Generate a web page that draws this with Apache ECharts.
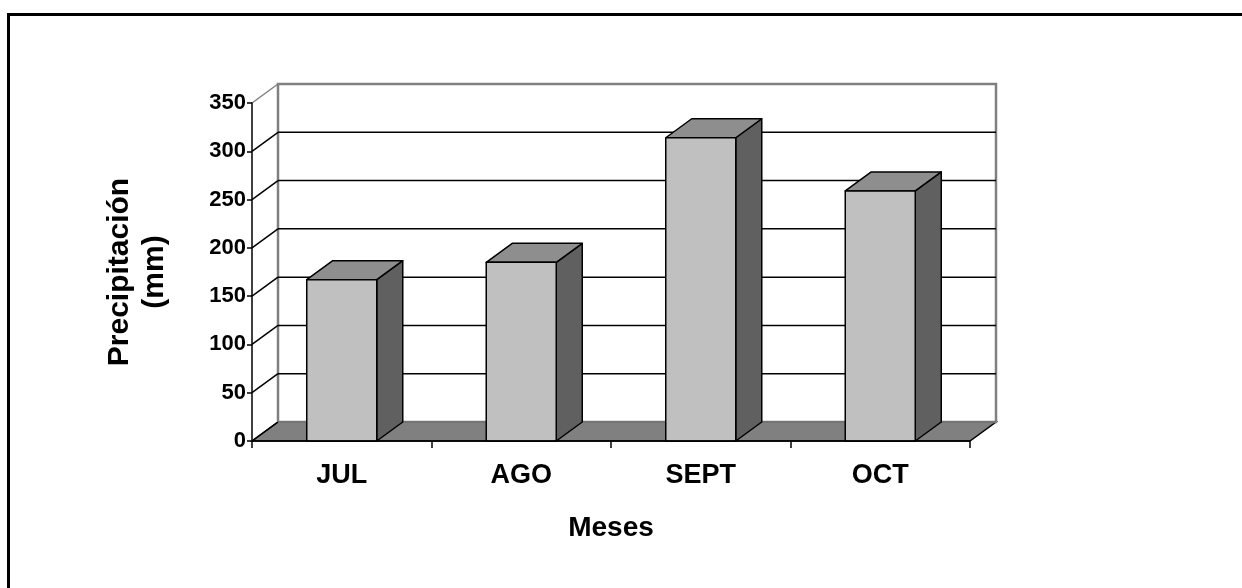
<!DOCTYPE html>
<html>
<head>
<meta charset="utf-8">
<script src="https://cdn.jsdelivr.net/npm/echarts@6/dist/echarts.min.js"></script>
<style>
  html, body { margin: 0; padding: 0; background: #fff; }
  #chart { width: 1242px; height: 588px; }
</style>
</head>
<body>
<div id="chart"></div>
<script>
    const categories = ['JUL', 'AGO', 'SEPT', 'OCT'];
    const precipitation = [167, 185, 314, 259];
    const yTicks = [0, 50, 100, 150, 200, 250, 300, 350];

    // depth of the fake 3D box
    const DX = 26;
    const DY = 19;
    const fontMain = 'Liberation Sans, Arial, sans-serif';

    const chart = echarts.init(document.getElementById('chart'));

    function renderBox(params, api) {
        const cs = params.coordSys;
        const left = cs.x;
        const right = cs.x + cs.width;
        const yOf = (v) => api.coord([0, v])[1];
        const y0 = yOf(yTicks[0]);
        const yTop = yOf(yTicks[yTicks.length - 1]);
        const children = [];

        // floor
        children.push({
            type: 'polygon',
            shape: { points: [[left, y0], [right, y0], [right + DX, y0 - DY], [left + DX, y0 - DY]] },
            style: { fill: '#808080', stroke: '#000', lineWidth: 1.5 }
        });
        // back wall
        children.push({
            type: 'rect',
            shape: { x: left + DX, y: yTop - DY, width: right - left, height: y0 - yTop },
            style: { fill: '#fff', stroke: '#808080', lineWidth: 2.5 }
        });
        // grid lines on back wall + left wall
        yTicks.forEach((v, i) => {
            const y = yOf(v);
            const last = i === yTicks.length - 1;
            if (i > 0 && !last) {
                children.push({
                    type: 'line',
                    shape: { x1: left + DX, y1: y - DY, x2: right + DX, y2: y - DY },
                    style: { stroke: '#000', lineWidth: 1.5 }
                });
            }
            children.push({
                type: 'line',
                shape: { x1: left, y1: y, x2: left + DX, y2: y - DY },
                style: { stroke: last ? '#808080' : '#000', lineWidth: 1.5 }
            });
        });
        // floor back edge
        children.push({
            type: 'line',
            shape: { x1: left + DX, y1: y0 - DY, x2: right + DX, y2: y0 - DY },
            style: { stroke: '#707070', lineWidth: 1.5 }
        });
        return { type: 'group', children: children };
    }

    function renderBar(params, api) {
        const cat = api.value(0);
        const val = api.value(1);
        const p0 = api.coord([cat, 0]);
        const p1 = api.coord([cat, val]);
        const w = api.size([1, 0])[0] * 0.39;
        const x0 = p0[0] - w / 2;
        const x1 = p0[0] + w / 2;
        const yb = p0[1];
        const yt = p1[1];
        const edge = { stroke: '#000', lineWidth: 1.5, lineJoin: 'round' };
        return {
            type: 'group',
            children: [
                {
                    type: 'polygon',
                    shape: { points: [[x1, yt], [x1 + DX, yt - DY], [x1 + DX, yb - DY], [x1, yb]] },
                    style: Object.assign({ fill: '#606060' }, edge)
                },
                {
                    type: 'polygon',
                    shape: { points: [[x0, yt], [x1, yt], [x1 + DX, yt - DY], [x0 + DX, yt - DY]] },
                    style: Object.assign({ fill: '#8e8e8e' }, edge)
                },
                {
                    type: 'rect',
                    shape: { x: x0, y: yt, width: w, height: yb - yt },
                    style: Object.assign({ fill: '#c0c0c0' }, edge)
                }
            ]
        };
    }

    chart.setOption({
        backgroundColor: '#fff',
        animation: false,
        textStyle: { fontFamily: fontMain },
        graphic: [
            {
                type: 'rect',
                shape: { x: 8.5, y: 14.5, width: 1400, height: 800 },
                style: { fill: 'transparent', stroke: '#000', lineWidth: 3 },
                silent: true
            }
        ],
        grid: { left: 252, top: 103, width: 718, height: 338 },
        xAxis: {
            type: 'category',
            data: categories,
            boundaryGap: true,
            axisLine: { lineStyle: { color: '#000', width: 1.5 } },
            axisTick: { show: true, length: 7, lineStyle: { color: '#000', width: 1.5 } },
            axisLabel: { color: '#000', fontWeight: 'bold', fontSize: 27, margin: 21, fontFamily: fontMain },
            name: 'Meses',
            nameLocation: 'middle',
            nameGap: 73,
            nameTextStyle: { color: '#000', fontWeight: 'bold', fontSize: 28, fontFamily: fontMain },
            splitLine: { show: false },
            z: 10
        },
        yAxis: {
            type: 'value',
            min: 0,
            max: 350,
            interval: 50,
            axisLine: { show: true, lineStyle: { color: '#000', width: 1.5 } },
            axisTick: { show: true, length: 5, lineStyle: { color: '#000', width: 1.5 } },
            axisLabel: { color: '#000', fontWeight: 'bold', fontSize: 22, margin: 6, fontFamily: fontMain },
            name: 'Precipitación\n(mm)',
            nameLocation: 'middle',
            nameRotate: 90,
            nameGap: 80,
            nameTextStyle: { color: '#000', fontWeight: 'bold', fontSize: 30, lineHeight: 35, fontFamily: fontMain },
            splitLine: { show: false },
            z: 10
        },
        series: [
            {
                type: 'custom',
                name: 'box',
                clip: false,
                silent: true,
                z: 1,
                renderItem: renderBox,
                data: [[0, 0]]
            },
            {
                type: 'custom',
                name: 'Precipitación',
                clip: false,
                z: 2,
                renderItem: renderBar,
                data: precipitation.map((v, i) => [i, v])
            }
        ]
    });
</script>
</body>
</html>
